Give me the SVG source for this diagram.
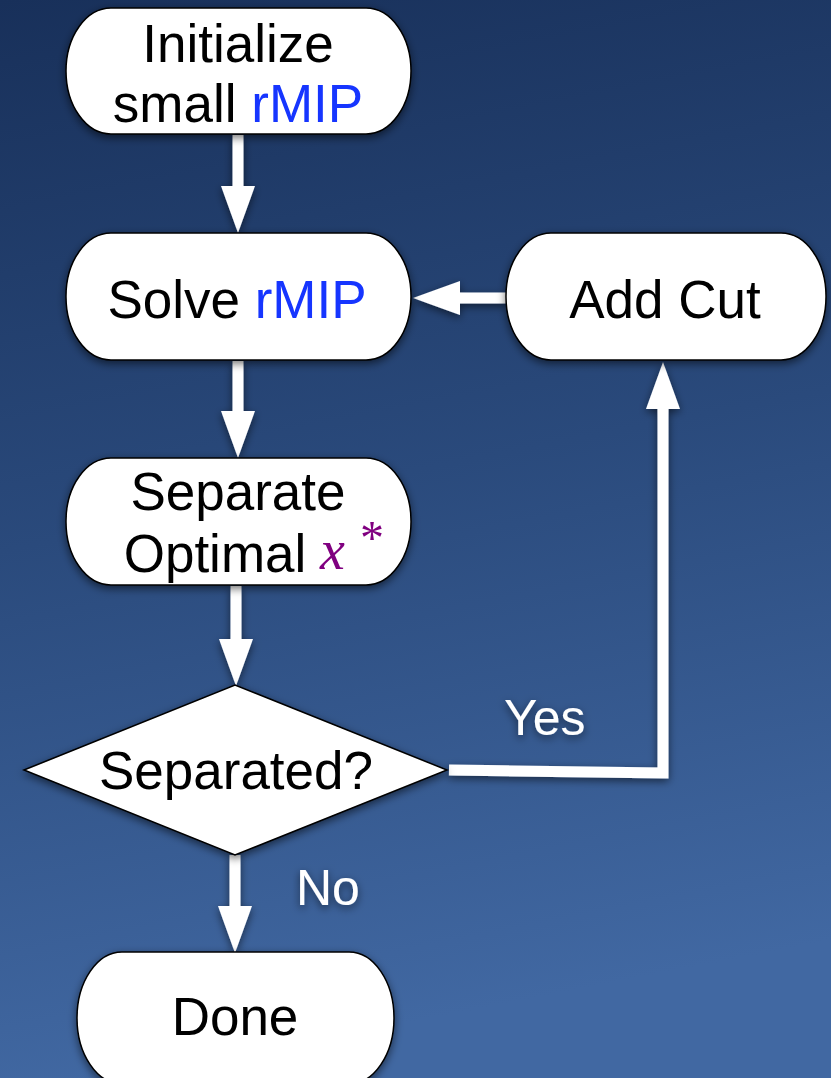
<svg xmlns="http://www.w3.org/2000/svg" width="831" height="1078" viewBox="0 0 831 1078">
<defs>
<linearGradient id="bg" x1="0" y1="0" x2="0.15" y2="1">
<stop offset="0" stop-color="#18305a"/>
<stop offset="0.5" stop-color="#2a4a7c"/>
<stop offset="1" stop-color="#4168a2"/>
</linearGradient>
<filter id="sh" x="-20%" y="-20%" width="140%" height="140%">
<feDropShadow dx="0" dy="3" stdDeviation="4" flood-color="#000" flood-opacity="0.55"/>
</filter>
<marker id="ah" viewBox="0 0 47 34" markerWidth="47" markerHeight="34" refX="0" refY="17" orient="auto" markerUnits="userSpaceOnUse">
<path d="M0,0 L47,17 L0,34 z" fill="#fff"/>
</marker>
<style>
.node{fill:#fff;stroke:#000;stroke-width:1.5}
.t{font-family:"Liberation Sans",Arial,sans-serif;font-size:53px;fill:#000;text-anchor:middle}
.b{fill:#1434ff}
.lbl{font-family:"Liberation Sans",Arial,sans-serif;font-size:50px;fill:#fff}
.c{fill:none;stroke:#fff;stroke-width:11;marker-end:url(#ah)}
.m{font-family:"Liberation Serif","Times New Roman",serif;fill:#800080}
</style>
</defs>
<rect width="831" height="1078" fill="url(#bg)"/>
<g id="connectors" filter="url(#sh)">
<line class="c" x1="238" y1="135" x2="238" y2="186"/>
<line class="c" x1="238" y1="361" x2="238" y2="411"/>
<line class="c" x1="236" y1="586" x2="236" y2="639"/>
<line class="c" x1="235" y1="855" x2="235" y2="906"/>
<line class="c" x1="506" y1="298" x2="460" y2="298"/>
<polyline class="c" stroke-linejoin="miter" points="449,770 663,773 663,409"/>
</g>
<g id="labels" filter="url(#sh)">
<text class="lbl" x="504" y="735">Yes</text>
<text class="lbl" x="296" y="905">No</text>
</g>
<g id="init" filter="url(#sh)">
<rect class="node" x="66" y="8" width="345" height="126" rx="45" ry="63"/>
<text class="t" x="238" y="62">Initialize</text>
<text class="t" x="238" y="122">small <tspan class="b">rMIP</tspan></text>
</g>
<g id="solve" filter="url(#sh)">
<rect class="node" x="66" y="233" width="345" height="127" rx="45" ry="63"/>
<text class="t" x="237" y="318">Solve <tspan class="b">rMIP</tspan></text>
</g>
<g id="addcut" filter="url(#sh)">
<rect class="node" x="506" y="233" width="320" height="127" rx="45" ry="63"/>
<text class="t" x="665" y="318">Add Cut</text>
</g>
<g id="separate" filter="url(#sh)">
<rect class="node" x="66" y="458" width="345" height="127" rx="45" ry="63"/>
<text class="t" x="238" y="510">Separate</text>
<text class="t" x="215" y="572">Optimal</text>
<text class="m" x="320" y="569" font-size="56" font-style="italic">x</text>
<text class="m" x="360" y="554" font-size="48">*</text>
</g>
<g id="decision" filter="url(#sh)">
<polygon class="node" points="24,770 235,685 447,770 235,855"/>
<text class="t" x="236" y="789">Separated?</text>
</g>
<g id="done" filter="url(#sh)">
<rect class="node" x="77" y="952" width="317" height="132" rx="45" ry="66"/>
<text class="t" x="235" y="1035">Done</text>
</g>
</svg>
